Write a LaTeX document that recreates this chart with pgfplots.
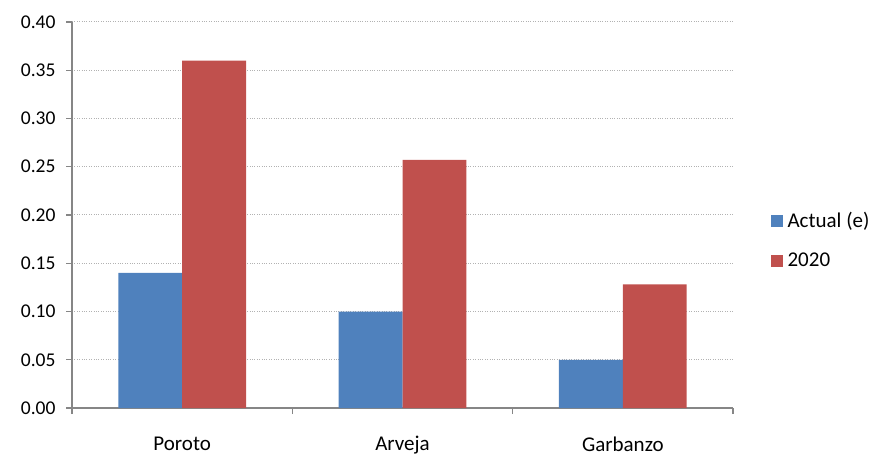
\documentclass[border=0pt]{standalone}
\usepackage{pgfplots}
\pgfplotsset{compat=1.18}
\usepackage{fontspec}
\setmainfont{Carlito}
\definecolor{serieA}{HTML}{4F81BD}
\definecolor{serieB}{HTML}{C0504D}
\definecolor{ejes}{HTML}{868686}
\begin{document}
\begin{tikzpicture}
\useasboundingbox (0pt,0pt) rectangle (874pt,455pt);
\begin{axis}[
    at={(72pt,47pt)}, anchor=south west,
    scale only axis,
    width=661pt, height=386pt,
    ybar, bar width=0.29,
    xmin=-0.5, xmax=2.5,
    ymin=0, ymax=0.40,
    axis x line*=bottom, axis y line*=left,
    axis line style={ejes, line width=1.2pt},
    xtick={0,1,2},
    xticklabels={Poroto, Arveja, Garbanzo},
    minor xtick={-0.5,0.5,1.5,2.5},
    major x tick style={draw=none},
    minor x tick style={ejes, line width=1.2pt},
    minor tick length=6pt,
    ytick={0,0.05,...,0.40},
    major tick length=6pt,
    y tick style={ejes, line width=1.2pt},
    tick align=outside,
    ymajorgrids,
    grid style={gray!60, dotted, line width=1pt},
    yticklabel style={font=\fontsize{19.5}{21}\selectfont, black, xshift=-7pt},
    xticklabel style={font=\fontsize{21}{23}\selectfont, black, yshift=-19pt},
    /pgf/number format/.cd, fixed, fixed zerofill, precision=2, assume math mode=true,
    /pgfplots/.cd,
    legend style={at={(1.052,0.435)}, anchor=west, draw=none, fill=none,
        font=\fontsize{21}{23}\selectfont, row sep=20pt,
        /tikz/every odd column/.style={column sep=3pt}},
    legend image code/.code={\fill[#1] (0pt,-6pt) rectangle (12pt,6pt);},
    legend cell align=left,
]
\addplot[fill=serieA, draw=none, bar shift=-0.145] coordinates {(0,0.14) (1,0.10) (2,0.05)};
\addplot[fill=serieB, draw=none, bar shift=0.145] coordinates {(0,0.36) (1,0.257) (2,0.128)};
\legend{Actual (e), 2020}
\end{axis}
\end{tikzpicture}
\end{document}
